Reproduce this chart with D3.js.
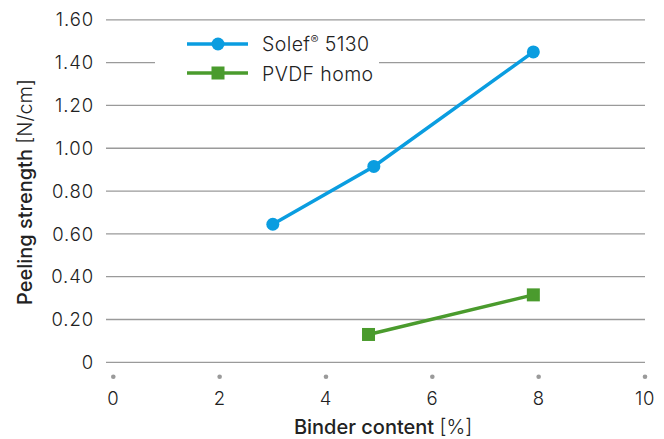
<!DOCTYPE html>
<html>
<head>
<meta charset="utf-8">
<script src="https://cdn.jsdelivr.net/npm/d3@7"></script>
<style>
  html, body { margin: 0; padding: 0; background: #fff; }
  svg { display: block; }
  text { font-family: Inter, "Liberation Sans", sans-serif; fill: #222; }
</style>
</head>
<body>
<svg id="chart" width="664" height="439"></svg>
<script>
// ---- data ----
const seriesNames = ["Solef\u00AE 5130", "PVDF homo"];
const solefX = [3.0, 4.9, 7.9];
const solefY = [0.645, 0.915, 1.45];
const pvdfX = [4.8, 7.9];
const pvdfY = [0.13, 0.315];
const xTicks = [0, 2, 4, 6, 8, 10];
const yTicks = [0, 0.2, 0.4, 0.6, 0.8, 1.0, 1.2, 1.4, 1.6];
const yTickLabels = ["0", "0.20", "0.40", "0.60", "0.80", "1.00", "1.20", "1.40", "1.60"];

const blue = "#0a9de0";
const green = "#4a9b2d";
const grid = "#9a9a9a";

const svg = d3.select("#chart");
const x = d3.scaleLinear().domain([0, 10]).range([113.3, 645]);
const y = d3.scaleLinear().domain([0, 1.6]).range([362.3, 19.8]);
const gridLeft = 106, gridRight = 645;

// gridlines (1.40 interrupted by legend)
const g = svg.append("g");
yTicks.forEach((t, i) => {
  const yy = y(t);
  if (Math.abs(t - 1.4) < 1e-9) {
    g.append("line").attr("x1", gridLeft).attr("x2", 155).attr("y1", yy).attr("y2", yy)
      .attr("stroke", grid).attr("stroke-width", 1.3);
    g.append("line").attr("x1", 379).attr("x2", gridRight).attr("y1", yy).attr("y2", yy)
      .attr("stroke", grid).attr("stroke-width", 1.3);
  } else {
    g.append("line").attr("x1", gridLeft).attr("x2", gridRight).attr("y1", yy).attr("y2", yy)
      .attr("stroke", grid).attr("stroke-width", 1.3);
  }
  svg.append("text").attr("x", 94).attr("y", yy).attr("dy", "0.36em")
    .attr("text-anchor", "end").style("font-size", "18.5px").style("font-weight", 300)
    .style("letter-spacing", "0.9px")
    .text(yTickLabels[i]);
});

// x ticks: dots + labels
xTicks.forEach(t => {
  svg.append("circle").attr("cx", x(t)).attr("cy", 376.7).attr("r", 2.3).attr("fill", grid);
  svg.append("text").attr("x", x(t)).attr("y", 405).attr("text-anchor", "middle")
    .style("font-size", "18.5px").style("font-weight", 300).style("letter-spacing", "0.6px").text(t);
});

// axis titles
const xt = svg.append("text").attr("x", 383).attr("y", 434).attr("text-anchor", "middle")
  .style("font-size", "20px");
xt.append("tspan").style("font-weight", 500).text("Binder content ");
xt.append("tspan").style("font-weight", 300).text("[%]");

const yt = svg.append("text").attr("transform", "translate(32,192) rotate(-90)")
  .attr("text-anchor", "middle").style("font-size", "20px");
yt.append("tspan").style("font-weight", 500).text("Peeling strength ");
yt.append("tspan").style("font-weight", 300).text("[N/cm]");

// lines
const line = d3.line().x(d => x(d[0])).y(d => y(d[1]));
const solef = solefX.map((v, i) => [v, solefY[i]]);
const pvdf = pvdfX.map((v, i) => [v, pvdfY[i]]);

svg.append("path").datum(solef).attr("d", line).attr("fill", "none")
  .attr("stroke", blue).attr("stroke-width", 3.5);
svg.selectAll(".dot").data(solef).enter().append("circle")
  .attr("cx", d => x(d[0])).attr("cy", d => y(d[1])).attr("r", 6.5).attr("fill", blue);

svg.append("path").datum(pvdf).attr("d", line).attr("fill", "none")
  .attr("stroke", green).attr("stroke-width", 3.5);
svg.selectAll(".sq").data(pvdf).enter().append("rect")
  .attr("x", d => x(d[0]) - 6.5).attr("y", d => y(d[1]) - 6.5)
  .attr("width", 13).attr("height", 13).attr("fill", green);

// legend
const leg = svg.append("g");
const legY = [44, 73];
const legColors = [blue, green];
legY.forEach((ly, i) => {
  leg.append("line").attr("x1", 187).attr("x2", 248).attr("y1", ly).attr("y2", ly)
    .attr("stroke", legColors[i]).attr("stroke-width", 3.5);
  if (i === 0) {
    leg.append("circle").attr("cx", 218).attr("cy", ly).attr("r", 6.5).attr("fill", blue);
  } else {
    leg.append("rect").attr("x", 218 - 6.5).attr("y", ly - 6.5).attr("width", 13).attr("height", 13).attr("fill", green);
  }
});
const l1 = leg.append("text").attr("x", 262).attr("y", 50.5).style("font-size", "19.5px")
  .style("font-weight", 300).style("letter-spacing", "0.4px");
l1.append("tspan").text("Solef");
l1.append("tspan").attr("dy", -7).style("font-size", "12px").text("\u00AE");
l1.append("tspan").attr("dy", 7).text(" 5130");
leg.append("text").attr("x", 262).attr("y", 80.5).style("font-size", "19.5px").style("font-weight", 300)
  .style("letter-spacing", "0.4px")
  .text(seriesNames[1]);
</script>
</body>
</html>
